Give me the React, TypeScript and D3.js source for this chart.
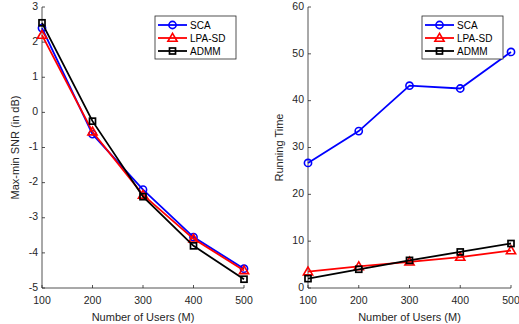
import React from "react";
import * as d3 from "d3";

const users = [100, 200, 300, 400, 500];

// left panel: Max-min SNR (dB)
const snrSCA = [2.4, -0.62, -2.2, -3.55, -4.45];
const snrLPA = [2.2, -0.55, -2.35, -3.6, -4.5];
const snrADMM = [2.55, -0.25, -2.4, -3.8, -4.75];

// right panel: running time
const timeSCA = [26.7, 33.5, 43.2, 42.6, 50.4];
const timeLPA = [3.5, 4.6, 5.6, 6.6, 8.0];
const timeADMM = [2.0, 4.0, 5.9, 7.7, 9.5];

const snrTicks = [-5, -4, -3, -2, -1, 0, 1, 2, 3];
const timeTicks = [0, 10, 20, 30, 40, 50, 60];

const seriesNames = ["SCA", "LPA-SD", "ADMM"];
const seriesColors = ["#0000ff", "#ff0000", "#000000"];
const seriesMarkers = ["circle", "triangle", "square"];

const font = "'Liberation Sans', Arial, sans-serif";
const axisColor = "#262626";

const Marker = ({ kind, x, y, color }: { kind: string; x: number; y: number; color: string }) => {
  if (kind === "circle")
    return <circle cx={x} cy={y} r={3.6} fill="none" stroke={color} strokeWidth={1.6} />;
  if (kind === "triangle") {
    const s = 4.6;
    const pts = `${x},${y - s} ${x - s},${y + s * 0.7} ${x + s},${y + s * 0.7}`;
    return <polygon points={pts} fill="none" stroke={color} strokeWidth={1.6} />;
  }
  return <rect x={x - 3} y={y - 3} width={6} height={6} fill="none" stroke={color} strokeWidth={1.7} />;
};

const Panel = ({
  x0, x1, yDomain, ticks, series, ylabel, ylabelX, legendX,
}: {
  x0: number; x1: number; yDomain: [number, number]; ticks: number[];
  series: number[][]; ylabel: string; ylabelX: number; legendX: number;
}) => {
  const top = 7, bottom = 288;
  const x = d3.scaleLinear().domain([100, 500]).range([x0, x1]);
  const y = d3.scaleLinear().domain(yDomain).range([bottom, top]);
  const line = d3.line<number>().x((_, i) => x(users[i])).y((d) => y(d));
  return (
    <g fontFamily={font}>
      {/* axes */}
      <line x1={x0} x2={x0} y1={top} y2={bottom} stroke={axisColor} strokeWidth={0.8} />
      <line x1={x0} x2={x1} y1={bottom} y2={bottom} stroke={axisColor} strokeWidth={0.8} />
      {ticks.map((t) => (
        <g key={t}>
          <line x1={x0} x2={x0 + 3} y1={y(t)} y2={y(t)} stroke={axisColor} strokeWidth={0.8} />
          <text x={x0 - 4} y={y(t) - 1} dy="0.35em" textAnchor="end" fontSize={10.5} fill={axisColor}>
            {t}
          </text>
        </g>
      ))}
      {users.map((u) => (
        <g key={u}>
          <line x1={x(u)} x2={x(u)} y1={bottom} y2={bottom - 3} stroke={axisColor} strokeWidth={0.8} />
          <text x={x(u)} y={bottom + 16} textAnchor="middle" fontSize={10.5} fill={axisColor}>
            {u}
          </text>
        </g>
      ))}
      <text x={(x0 + x1) / 2} y={320.5} textAnchor="middle" fontSize={11} fill={axisColor}>
        Number of Users (M)
      </text>
      <text
        transform={`translate(${ylabelX},${(top + bottom) / 2}) rotate(-90)`}
        textAnchor="middle"
        fontSize={11}
        fill={axisColor}
      >
        {ylabel}
      </text>
      {/* series */}
      {series.map((s, k) => (
        <g key={k}>
          <path d={line(s) ?? ""} fill="none" stroke={seriesColors[k]} strokeWidth={1.8} />
          {s.map((v, i) => (
            <Marker key={i} kind={seriesMarkers[k]} x={x(users[i])} y={y(v)} color={seriesColors[k]} />
          ))}
        </g>
      ))}
      {/* legend */}
      <rect x={legendX} y={16} width={81} height={43} fill="#fff" stroke={axisColor} strokeWidth={0.8} />
      {seriesNames.map((n, k) => {
        const ly = 25 + k * 13;
        return (
          <g key={n}>
            <line x1={legendX + 3} x2={legendX + 32} y1={ly} y2={ly} stroke={seriesColors[k]} strokeWidth={1.8} />
            <Marker kind={seriesMarkers[k]} x={legendX + 17.5} y={ly} color={seriesColors[k]} />
            <text x={legendX + 35} y={ly} dy="0.35em" fontSize={10} fill="#000">
              {n}
            </text>
          </g>
        );
      })}
    </g>
  );
};

export default function App() {
  return (
    <svg width={519} height={324} style={{ position: "absolute", left: 0, top: 0, background: "#fff" }}>
      <Panel
        x0={42}
        x1={244}
        yDomain={[-5, 3]}
        ticks={snrTicks}
        series={[snrSCA, snrLPA, snrADMM]}
        ylabel="Max-min SNR (in dB)"
        ylabelX={19}
        legendX={155}
      />
      <Panel
        x0={308}
        x1={511}
        yDomain={[0, 60]}
        ticks={timeTicks}
        series={[timeSCA, timeLPA, timeADMM]}
        ylabel="Running Time"
        ylabelX={283}
        legendX={422}
      />
    </svg>
  );
}
